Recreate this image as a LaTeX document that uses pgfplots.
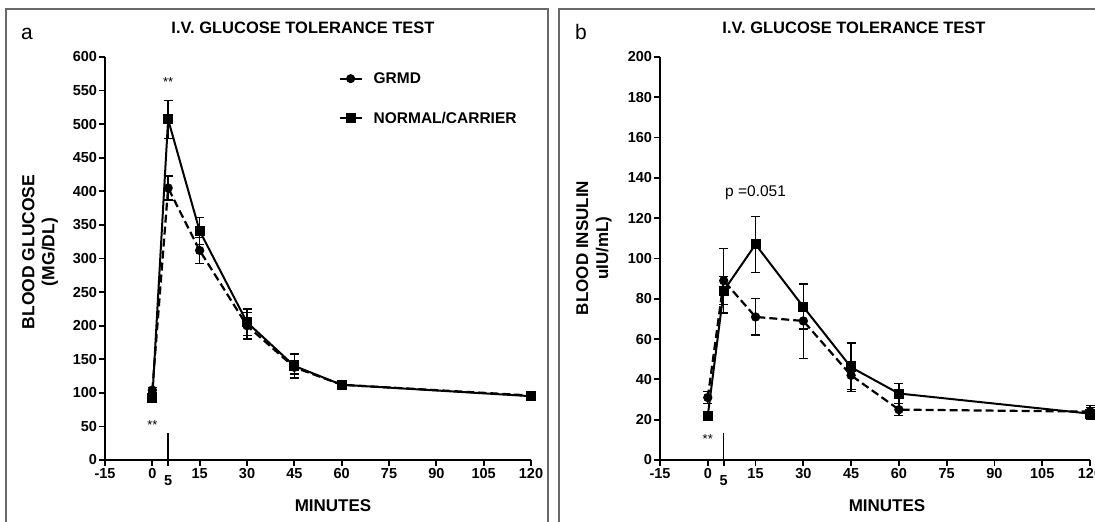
\documentclass[border=0pt]{standalone}
\usepackage{fontspec}
\setmainfont{Liberation Sans}
\usepackage{pgfplots}
\usepackage{pgfplotstable}
\pgfplotsset{compat=1.18}
\definecolor{bordergray}{RGB}{105,105,105}

\pgfplotstableread{
x y ep em
0 92 4 4
5 507 28 28
15 341 20 20
30 205 20 20
45 140 18 18
60 112 6 6
120 95 4 4
}\glucNormal
\pgfplotstableread{
x y ep em
0 104 4 4
5 405 18 18
15 312 19 19
30 200 20 20
45 138 10 10
60 112 5 5
120 96 3 3
}\glucGRMD
\pgfplotstableread{
x y ep em
0 22 2 2
5 84 21 11
15 107 14 14
30 76 11 11
45 46 12 12
60 33 5 5
120 23 3 3
}\insNormal
\pgfplotstableread{
x y ep em
0 31 3 3
5 89 2 12
15 71 9 9
30 69 18.5 18.5
45 42 7 7
60 25 3 3
120 24 3 3
}\insGRMD

\pgfplotsset{
  panel/.style={
    scale only axis,
    axis x line=bottom, axis y line=left,
    axis line style={-, line width=2pt},
    tick style={black, line width=1.8pt},
    major tick length=6pt,
    tick align=outside,
    xmin=-15, xmax=120,
    xtick={-15,0,15,30,45,60,75,90,105,120},
    xticklabels={-15,0,15,30,45,60,75,90,105,120},
    extra x ticks={5}, extra x tick labels={5},
    extra x tick style={tick label style={yshift=-7pt}},
    tick label style={font=\fontsize{14.5}{14.5}\selectfont\bfseries},
    xticklabel style={yshift=1pt},
    yticklabel style={xshift=1.5pt},
    /pgf/number format/assume math mode=true,
    clip=false,
  },
  ebars/.style={
    error bars/y dir=both, error bars/y explicit,
    error bars/error bar style={line width=1.3pt, solid},
    error bars/error mark options={rotate=90, mark size=4.5pt, line width=1.3pt, solid}},
  solidser/.style={black, line width=2pt, solid, mark=square*, mark size=4pt, mark options={solid}, ebars},
  dashser/.style={black, line width=2.2pt, dash pattern=on 8pt off 4pt, mark=*, mark size=3.5pt, mark options={solid}, ebars},
}

\begin{document}
\begin{tikzpicture}[x=1pt,y=1pt]
\useasboundingbox (0,0) rectangle (1095,522);
\draw[bordergray, line width=1.4pt] (6,-10) rectangle (548,513);
\draw[bordergray, line width=1.4pt] (559,-10) rectangle (1120,513);

% ---------- panel a ----------
\begin{axis}[panel, at={(105pt,62pt)}, anchor=south west, width=426pt, height=403pt,
  ymin=0, ymax=600, ytick={0,50,...,600},
  legend style={draw=none, fill=none, at={(axis description cs:0.548,0.967)}, anchor=north west,
    font=\fontsize{15.5}{15.5}\selectfont\bfseries, row sep=23pt, inner sep=0pt,
    /tikz/every odd column/.append style={column sep=9pt}},
  legend image code/.code={\draw[#1, solid] plot coordinates {(0pt,0pt) (11pt,0pt) (22pt,0pt)};},
  legend cell align=left]
\addplot[dashser, forget plot] table[x=x, y=y, y error plus=ep, y error minus=em] {\glucGRMD};
\addplot[solidser, forget plot] table[x=x, y=y, y error plus=ep, y error minus=em] {\glucNormal};
\addlegendimage{black, line width=2pt, mark=*, mark size=3.5pt, mark repeat=2, mark phase=2}
\addlegendentry{GRMD}
\addlegendimage{black, line width=2pt, mark=square*, mark size=4pt, mark repeat=2, mark phase=2}
\addlegendentry{NORMAL/CARRIER}
\draw[line width=1.5pt] (axis cs:5,0) -- (axis cs:5,40);
\node[font=\fontsize{13}{13}\selectfont] at (axis cs:5,562) {**};
\node[font=\fontsize{13}{13}\selectfont] at (axis cs:0,52) {**};
\end{axis}

% ---------- panel b ----------
\begin{axis}[panel, at={(660pt,62pt)}, anchor=south west, width=430pt, height=403pt,
  ymin=0, ymax=200, ytick={0,20,...,200}]
\addplot[dashser] table[x=x, y=y, y error plus=ep, y error minus=em] {\insGRMD};
\addplot[solidser] table[x=x, y=y, y error plus=ep, y error minus=em] {\insNormal};
\draw[line width=1.5pt] (axis cs:5,0) -- (axis cs:5,13.5);
\node[font=\fontsize{13}{13}\selectfont] at (axis cs:0,10.5) {**};
\node[font=\fontsize{15.5}{15.5}\selectfont] at (axis cs:15,132.5) {p =0.051};
\end{axis}

% titles and labels
\node[font=\fontsize{16.5}{16.5}\selectfont\bfseries] at (303,494) {I.V. GLUCOSE TOLERANCE TEST};
\node[font=\fontsize{16.5}{16.5}\selectfont\bfseries] at (854,494) {I.V. GLUCOSE TOLERANCE TEST};
\node[font=\fontsize{21}{21}\selectfont] at (27,488) {a};
\node[font=\fontsize{21}{21}\selectfont] at (581,490) {b};
\node[font=\fontsize{17}{17}\selectfont\bfseries] at (333,16) {MINUTES};
\node[font=\fontsize{17}{17}\selectfont\bfseries] at (887,16) {MINUTES};
\node[rotate=90, align=center, font=\fontsize{17.5}{20}\selectfont\bfseries] at (40,270) {BLOOD GLUCOSE\\(MG/DL)};
\node[rotate=90, align=center, font=\fontsize{17}{20}\selectfont\bfseries] at (594,274) {BLOOD INSULIN\\uIU/mL)};
\end{tikzpicture}
\end{document}
